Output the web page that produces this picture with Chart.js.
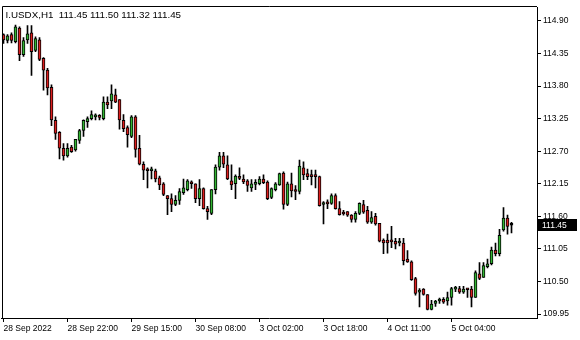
<!DOCTYPE html>
<html>
<head>
<meta charset="utf-8">
<script src="https://cdn.jsdelivr.net/npm/chart.js@4"></script>
<style>
  html, body { margin: 0; padding: 0; background: #fff; }
  #wrap { width: 580px; height: 340px; }
</style>
</head>
<body>
<div id="wrap"><canvas id="chart" width="580" height="340"></canvas></div>
<script>
// I.USDX H1 candles (oldest first)
const SYMBOL = 'I.USDX,H1'
const OPEN = [
  114.67, 114.57, 114.67, 114.55, 114.78, 114.33, 114.58, 114.70, 114.40, 114.58,
  114.27, 114.07, 113.78, 113.22, 113.02, 112.75, 112.62, 112.77, 112.72, 112.88,
  113.05, 113.20, 113.25, 113.28, 113.29, 113.25, 113.53, 113.55, 113.65, 113.57,
  113.22, 113.10, 112.95, 113.28, 112.75, 112.48, 112.38, 112.37, 112.37, 112.25,
  112.15, 111.95, 111.90, 111.80, 111.87, 112.00, 112.05, 112.18, 112.15, 111.90,
  112.07, 111.73, 111.65, 112.05, 112.43, 112.62, 112.47, 112.20, 112.15, 112.25,
  112.23, 112.20, 112.08, 112.14, 112.15, 112.23, 112.18, 111.92, 112.05, 112.13,
  112.33, 111.80, 112.15, 112.03, 112.02, 112.42, 112.32, 112.30, 112.28, 112.27,
  111.80, 111.82, 111.82, 111.95, 111.73, 111.65, 111.68, 111.62, 111.55, 111.65,
  111.80, 111.70, 111.50, 111.60, 111.48, 111.20, 111.20, 111.20, 111.18, 111.15,
  111.15, 110.88, 110.83, 110.55, 110.32, 110.37, 110.28, 110.03, 110.13, 110.17,
  110.20, 110.17, 110.23, 110.37, 110.38, 110.32, 110.37, 110.37, 110.23, 110.63,
  110.57, 110.75, 110.80, 111.03, 110.97, 111.37, 111.57, 111.45,
]
const HIGH = [
  114.68, 114.67, 114.70, 114.83, 114.80, 114.62, 114.82, 114.82, 114.63, 114.62,
  114.28, 114.10, 113.82, 113.28, 113.03, 112.83, 112.83, 112.80, 112.90, 113.07,
  113.23, 113.28, 113.38, 113.33, 113.32, 113.62, 113.62, 113.82, 113.75, 113.57,
  113.32, 113.13, 113.30, 113.30, 112.97, 112.52, 112.42, 112.43, 112.40, 112.28,
  112.17, 111.95, 111.98, 111.95, 112.07, 112.23, 112.22, 112.20, 112.15, 112.22,
  112.08, 111.77, 112.05, 112.47, 112.68, 112.68, 112.62, 112.47, 112.30, 112.42,
  112.30, 112.22, 112.22, 112.22, 112.27, 112.30, 112.20, 112.08, 112.17, 112.33,
  112.35, 112.18, 112.33, 112.12, 112.55, 112.52, 112.40, 112.38, 112.38, 112.28,
  111.85, 111.88, 111.98, 111.98, 111.85, 111.70, 111.68, 111.63, 111.68, 111.83,
  111.87, 111.77, 111.68, 111.65, 111.48, 111.22, 111.30, 111.43, 111.23, 111.23,
  111.23, 111.02, 110.85, 110.57, 110.38, 110.38, 110.28, 110.18, 110.18, 110.22,
  110.23, 110.32, 110.40, 110.42, 110.42, 110.42, 110.38, 110.42, 110.68, 110.82,
  110.82, 110.88, 111.08, 111.15, 111.38, 111.75, 111.62, 111.50,
]
const LOW = [
  114.52, 114.53, 114.53, 114.53, 114.23, 114.30, 114.52, 113.98, 114.38, 114.23,
  113.73, 113.65, 113.13, 112.90, 112.57, 112.55, 112.60, 112.68, 112.70, 112.83,
  112.95, 113.10, 113.23, 113.23, 113.23, 113.23, 113.42, 113.42, 113.52, 113.07,
  113.03, 112.77, 112.93, 112.60, 112.47, 112.22, 112.08, 112.23, 112.18, 112.05,
  111.95, 111.63, 111.68, 111.78, 111.80, 111.97, 112.03, 112.07, 111.83, 111.78,
  111.72, 111.55, 111.63, 111.98, 112.38, 112.42, 112.22, 112.05, 111.90, 112.22,
  112.15, 112.02, 112.02, 112.05, 112.13, 112.15, 111.88, 111.90, 112.03, 112.12,
  111.72, 111.78, 111.93, 111.88, 111.98, 112.22, 112.22, 112.13, 112.08, 111.77,
  111.47, 111.73, 111.80, 111.72, 111.62, 111.62, 111.60, 111.50, 111.50, 111.63,
  111.65, 111.48, 111.48, 111.45, 111.17, 110.97, 110.98, 111.07, 111.05, 111.10,
  110.78, 110.82, 110.52, 110.27, 110.07, 110.27, 110.02, 110.02, 110.08, 110.13,
  110.13, 110.10, 110.10, 110.33, 110.30, 110.30, 110.23, 110.07, 110.23, 110.53,
  110.57, 110.73, 110.78, 110.93, 110.93, 111.35, 111.30, 111.32,
]
const CLOSE = [
  114.58, 114.65, 114.57, 114.80, 114.33, 114.57, 114.68, 114.38, 114.60, 114.25,
  114.07, 113.77, 113.23, 113.00, 112.75, 112.62, 112.75, 112.69, 112.90, 113.05,
  113.22, 113.25, 113.32, 113.30, 113.27, 113.53, 113.48, 113.67, 113.53, 113.23,
  113.08, 112.98, 113.28, 112.73, 112.48, 112.38, 112.37, 112.38, 112.23, 112.13,
  111.97, 111.90, 111.80, 111.87, 112.02, 112.08, 112.20, 112.15, 111.90, 112.07,
  111.73, 111.68, 112.05, 112.43, 112.62, 112.48, 112.23, 112.13, 112.28, 112.24,
  112.18, 112.12, 112.15, 112.17, 112.23, 112.17, 111.90, 112.07, 112.15, 112.32,
  111.80, 112.15, 112.03, 112.02, 112.45, 112.30, 112.27, 112.27, 112.27, 111.78,
  111.83, 111.81, 111.95, 111.73, 111.63, 111.64, 111.62, 111.55, 111.65, 111.82,
  111.67, 111.50, 111.58, 111.47, 111.18, 111.15, 111.15, 111.17, 111.13, 111.18,
  110.85, 110.83, 110.53, 110.30, 110.35, 110.28, 110.03, 110.12, 110.17, 110.19,
  110.15, 110.23, 110.38, 110.38, 110.32, 110.37, 110.36, 110.23, 110.65, 110.55,
  110.77, 110.80, 111.03, 110.97, 111.28, 111.57, 111.43, 111.45,
]

// time labels sit under every 16th bar
const X_TICK_BARS = [0, 16, 32, 48, 64, 80, 96, 112]
const X_TICK_LABELS = [
  '28 Sep 2022', '28 Sep 22:00', '29 Sep 15:00', '30 Sep 08:00',
  '3 Oct 02:00', '3 Oct 18:00', '4 Oct 11:00', '5 Oct 04:00',
]
const Y_TICKS = [109.95, 110.50, 111.05, 111.60, 112.15, 112.70, 113.25, 113.80, 114.35, 114.90]
const Y_MIN = 109.8833
const Y_MAX = 115.1333

const UP_COLOR = '#32b432'
const DOWN_COLOR = '#dc1e1e'
const FONT = 'Liberation Sans, Arial, sans-serif'

const bodies = OPEN.map((o, i) => ({ x: i, y: [Math.min(o, CLOSE[i]), Math.max(o, CLOSE[i])] }))
const wicks = LOW.map((l, i) => ({ x: i, y: [l, HIGH[i]] }))
const bodyColors = OPEN.map((o, i) => (CLOSE[i] > o ? UP_COLOR : CLOSE[i] < o ? DOWN_COLOR : '#000'))

// frame on top/left, title line and the current-price box on the right axis
const terminalPlugin = {
  id: 'terminal',
  afterDraw(chart) {
    const { ctx, chartArea } = chart
    const y = chart.scales.y
    const last = CLOSE.length - 1

    ctx.save()
    ctx.strokeStyle = '#000'
    ctx.lineWidth = 1
    ctx.beginPath()
    ctx.moveTo(Math.round(chartArea.left) + 0.5, Math.round(chartArea.bottom))
    ctx.lineTo(Math.round(chartArea.left) + 0.5, Math.round(chartArea.top) - 0.5)
    ctx.lineTo(Math.round(chartArea.right), Math.round(chartArea.top) - 0.5)
    ctx.stroke()

    ctx.fillStyle = '#000'
    ctx.font = '9.8px ' + FONT
    ctx.textBaseline = 'middle'
    ctx.textAlign = 'left'
    const fmt = v => v.toFixed(2)
    ctx.fillText(
      `${SYMBOL}  ${fmt(OPEN[last])} ${fmt(HIGH[last])} ${fmt(LOW[last])} ${fmt(CLOSE[last])}`,
      chartArea.left + 4, chartArea.top + 8
    )

    const py = Math.round(y.getPixelForValue(CLOSE[last]))
    ctx.fillStyle = '#000'
    ctx.fillRect(Math.round(chartArea.right), py - 6, 40, 12)
    ctx.fillStyle = '#fff'
    ctx.font = '8.5px ' + FONT
    ctx.fillText(fmt(CLOSE[last]), Math.round(chartArea.right) + 5, py + 0.5)
    ctx.restore()
  },
}

const ctx = document.getElementById('chart').getContext('2d')

new Chart(ctx, {
  type: 'bar',
  data: {
    datasets: [
      {
        data: bodies,
        backgroundColor: bodyColors,
        borderColor: '#000',
        borderWidth: 1,
        borderSkipped: false,
        barThickness: 3,
        minBarLength: 2,
        grouped: false,
      },
      {
        data: wicks,
        backgroundColor: '#000',
        borderWidth: 0,
        barThickness: 1,
        grouped: false,
      },
    ],
  },
  options: {
    responsive: false,
    animation: false,
    layout: { padding: { left: 1.5, top: 3, right: 0, bottom: 0 } },
    plugins: {
      legend: { display: false },
      tooltip: { enabled: false },
    },
    scales: {
      x: {
        type: 'linear',
        offset: false,
        min: -0.5,
        max: 133.375,
        afterBuildTicks: (scale) => {
          scale.ticks = X_TICK_BARS.map(v => ({ value: v }))
        },
        afterFit: (scale) => { scale.height = 22 },
        grid: { offset: false, drawOnChartArea: false, drawTicks: true, tickLength: 4, color: '#000' },
        border: { display: true, color: '#000', width: 1 },
        ticks: {
          autoSkip: false,
          maxRotation: 0,
          align: 'start',
          padding: 2,
          color: '#000',
          font: { family: FONT, size: 8.5 },
          callback: (v) => X_TICK_LABELS[X_TICK_BARS.indexOf(v)] ?? '',
        },
      },
      y: {
        position: 'right',
        min: Y_MIN,
        max: Y_MAX,
        afterBuildTicks: (scale) => {
          scale.ticks = Y_TICKS.map(v => ({ value: v }))
        },
        afterFit: (scale) => { scale.width = 43 },
        grid: { drawOnChartArea: false, drawTicks: true, tickLength: 4, color: '#000' },
        border: { display: true, color: '#000', width: 1 },
        ticks: {
          padding: 2,
          color: '#000',
          font: { family: FONT, size: 8.5 },
          callback: (v) => v.toFixed(2),
        },
      },
    },
  },
  plugins: [terminalPlugin],
})
</script>
</body>
</html>
